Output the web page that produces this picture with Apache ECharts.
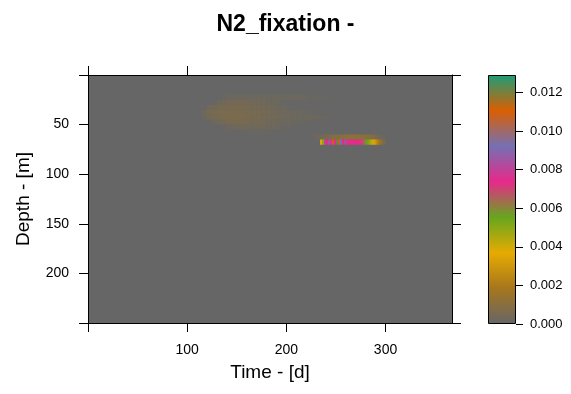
<!DOCTYPE html>
<html>
<head>
<meta charset="utf-8">
<script src="https://cdn.jsdelivr.net/npm/echarts@6/dist/echarts.min.js"></script>
<style>
html,body{margin:0;padding:0;background:#fff;}
#chart{width:571px;height:394px;}
</style>
</head>
<body>
<div id="chart"></div>
<script>
// ---- data ----
const palette = ['#666666','#A6761D','#E6AB02','#66A61E','#E7298A','#7570B3','#D95F02','#1B9E77'];
const valueMin = 0, valueMax = 0.0129;
const colorTicks = [0, 0.002, 0.004, 0.006, 0.008, 0.010, 0.012];
const xTicks = [0, 100, 200, 300];
const xLabels = [100, 200, 300];
const yTicks = [0, 50, 100, 150, 200, 250];
const yLabels = [50, 100, 150, 200];

// broad faint patch: 5-day bins x 5-m depth rows
const blobDays = [110,115,120,125,130,135,140,145,150,155,160,165,170,175,180,185,190,195,200,205,210,215,220,225,230,235,240,245];
const blobDepths = [20,25,30,35,40,45,50,55];
const blobValues = [
  [0,0,0,0,0,0.0001,0.0002,0.0002,0.0002,0.0002,0.0002,0.0002,0.0002,0.0002,0.0002,0.0002,0.0002,0.0002,0.0002,0.0002,0.0002,0.0002,0.0001,0.0001,0.0001,0.0001,0.0001,0],
  [0,0,0,0,0.0002,0.0003,0.0004,0.0004,0.0004,0.0004,0.0004,0.0003,0.0003,0.0003,0.0002,0.0002,0.0001,0,0,0,0,0,0,0,0,0,0,0],
  [0,0,0.0003,0.0004,0.0005,0.0005,0.0005,0.0005,0.0005,0.0005,0.0005,0.0004,0.0004,0.0004,0.0003,0.0003,0.0002,0.0002,0.0001,0,0,0,0,0,0,0,0,0],
  [0,0.0003,0.0005,0.0005,0.0006,0.0006,0.0006,0.0006,0.0006,0.0005,0.0005,0.0005,0.0005,0.0004,0.0004,0.0003,0.0003,0.0002,0.0002,0.0002,0.0002,0.0001,0.0001,0,0,0,0,0],
  [0,0.0002,0.0004,0.0005,0.0005,0.0006,0.0006,0.0006,0.0006,0.0006,0.0005,0.0005,0.0005,0.0004,0.0004,0.0004,0.0003,0.0003,0.0003,0.0002,0.0002,0.0002,0.0002,0.0002,0.0002,0.0001,0.0001,0],
  [0,0,0,0.0002,0.0003,0.0004,0.0005,0.0005,0.0005,0.0005,0.0005,0.0004,0.0004,0.0004,0.0003,0.0003,0.0002,0.0002,0.0002,0.0001,0.0001,0.0001,0,0,0,0,0,0],
  [0,0,0,0,0,0,0.0002,0.0002,0.0003,0.0003,0.0003,0.0003,0.0003,0.0003,0.0002,0.0002,0.0002,0.0001,0.0001,0,0,0,0,0,0,0,0,0],
  [0,0,0,0,0,0,0,0,0,0,0.0001,0.0001,0.0001,0.0001,0.0001,0,0,0,0,0,0,0,0,0,0,0,0,0]
];

// faint layer just above the bright band (60-65 m), 2-day bins
const upperDepth = 60;
const upperDays = [226,228,230,232,234,236,238,240,242,244,246,248,250,252,254,256,258,260,262,264,266,268,270,272,274,276,278,280,282,284,286,288,290,292,294,296,298];
const upperValues = [0.0001,0.0002,0.0002,0.0003,0.0004,0.0005,0.0005,0.0006,0.0006,0.0007,0.0008,0.0008,0.0009,0.0009,0.0010,0.0010,0.0010,0.0011,0.0011,0.0011,0.0011,0.0011,0.0011,0.0011,0.0011,0.0010,0.0010,0.0010,0.0009,0.0009,0.0008,0.0007,0.0005,0.0004,0.0003,0.0002,0.0001];

// bright band (65-70 m), 2-day bins
const bandDepth = 65;
const bandDays = [234,236,238,240,242,244,246,248,250,252,254,256,258,260,262,264,266,268,270,272,274,276,278,280,282,284,286,288,290,292,294,296,298];
const bandValues = [0.0038,0.0050,0.0080,0.0074,0.0085,0.0076,0.0108,0.0074,0.0122,0.0108,0.0092,0.0074,0.0084,0.0078,0.0074,0.0073,0.0075,0.0074,0.0073,0.0075,0.0072,0.0068,0.0062,0.0056,0.0052,0.0045,0.0040,0.0034,0.0026,0.0020,0.0014,0.0009,0.0005];

// ---- build cells ----
const BLOB_W = 5, BLOB_H = 5, BAND_W = 2, BAND_H = 5;
const cells = [];
blobDepths.forEach((d, r) => {
  blobDays.forEach((t, c) => {
    const v = blobValues[r][c];
    if (v > 0) cells.push([t, d, BLOB_W, BLOB_H, v]);
  });
});
upperDays.forEach((t, i) => cells.push([t, upperDepth, BAND_W, BAND_H, upperValues[i]]));
bandDays.forEach((t, i) => cells.push([t, bandDepth, BAND_W, BAND_H, bandValues[i]]));

const FONT = 'Liberation Sans';
const chart = echarts.init(document.getElementById('chart'), null, {renderer: 'canvas'});
const lineStyleBlack = {color: '#000', width: 1};
chart.setOption({
  animation: false,
  backgroundColor: '#fff',
  title: {
    text: 'N2_fixation -', left: 'center', top: 8,
    textStyle: {fontFamily: FONT, fontWeight: 'bold', fontSize: 23, color: '#000'}
  },
  visualMap: {
    show: false, type: 'continuous', min: valueMin, max: valueMax,
    dimension: 4, seriesIndex: 0, inRange: {color: palette}
  },
  grid: [
    {left: 88, top: 75, width: 364, height: 248, show: true, backgroundColor: palette[0], borderWidth: 0},
    {left: 488, top: 75, width: 28, height: 249, show: false}
  ],
  xAxis: [
    {
      gridIndex: 0, type: 'value', min: 0, max: 367, position: 'bottom',
      splitLine: {show: false},
      axisLine: {show: true, onZero: false, lineStyle: lineStyleBlack},
      name: 'Time - [d]', nameLocation: 'middle', nameGap: 40,
      nameTextStyle: {fontFamily: FONT, fontSize: 19, color: '#000'},
      axisTick: {show: true, length: 9, lineStyle: {color: '#000'}, customValues: xTicks},
      axisLabel: {show: true, margin: 20, fontFamily: FONT, fontSize: 14, color: '#000', customValues: xLabels}
    },
    {
      gridIndex: 0, type: 'value', min: 0, max: 367, position: 'top',
      splitLine: {show: false},
      axisLine: {show: true, onZero: false, lineStyle: lineStyleBlack},
      axisTick: {show: true, length: 9, lineStyle: {color: '#000'}, customValues: xTicks},
      axisLabel: {show: false}
    },
    {gridIndex: 1, type: 'category', data: ['key'], show: false}
  ],
  yAxis: [
    {
      gridIndex: 0, type: 'value', min: 0, max: 250, inverse: true, position: 'left',
      splitLine: {show: false},
      axisLine: {show: true, onZero: false, lineStyle: lineStyleBlack},
      name: 'Depth - [m]', nameLocation: 'middle', nameGap: 55, nameRotate: 90,
      nameTextStyle: {fontFamily: FONT, fontSize: 19, color: '#000'},
      axisTick: {show: true, length: 9, lineStyle: {color: '#000'}, customValues: yTicks},
      axisLabel: {show: true, margin: 19, fontFamily: FONT, fontSize: 14, color: '#000', customValues: yLabels}
    },
    {
      gridIndex: 0, type: 'value', min: 0, max: 250, inverse: true, position: 'right',
      splitLine: {show: false},
      axisLine: {show: true, onZero: false, lineStyle: lineStyleBlack},
      axisTick: {show: true, length: 9, lineStyle: {color: '#000'}, customValues: yTicks},
      axisLabel: {show: false}
    },
    {
      gridIndex: 1, type: 'value', min: valueMin, max: valueMax, position: 'right',
      splitLine: {show: false},
      axisLine: {show: false},
      axisTick: {show: true, length: 7, lineStyle: {color: '#000'}, customValues: colorTicks},
      axisLabel: {show: true, margin: 14, fontFamily: FONT, fontSize: 13, color: '#000',
        customValues: colorTicks, formatter: v => Number(v).toFixed(3)}
    }
  ],
  series: [
    {
      type: 'custom', xAxisIndex: 0, yAxisIndex: 0, clip: true,
      data: cells,
      encode: {x: [0], y: [1]},
      renderItem: function (params, api) {
        const t = api.value(0), d = api.value(1), w = api.value(2), h = api.value(3);
        const p0 = api.coord([t, d]);
        const p1 = api.coord([t + w, d + h]);
        const c = api.visual('color');
        return {
          type: 'rect',
          shape: {x: Math.min(p0[0], p1[0]), y: Math.min(p0[1], p1[1]),
                  width: Math.abs(p1[0] - p0[0]) + 0.3, height: Math.abs(p1[1] - p0[1]) + 0.3},
          style: {fill: c}
        };
      }
    },
    {
      type: 'bar', xAxisIndex: 2, yAxisIndex: 2, barWidth: '100%',
      data: [valueMax], silent: true,
      itemStyle: {
        borderColor: '#000', borderWidth: 1,
        color: new echarts.graphic.LinearGradient(0, 1, 0, 0,
          palette.map((col, i) => ({offset: i / (palette.length - 1), color: col})))
      }
    }
  ]
});
</script>
</body>
</html>
